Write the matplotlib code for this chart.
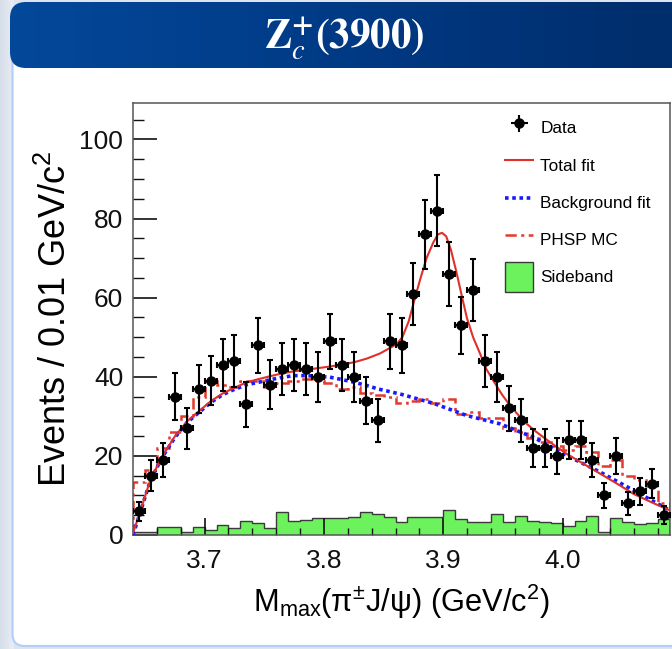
import numpy as np
import matplotlib
matplotlib.use("Agg")
import matplotlib.pyplot as plt
from matplotlib.patches import FancyBboxPatch, Patch
from matplotlib.colors import LinearSegmentedColormap
from matplotlib.ticker import MultipleLocator

plt.rcParams["font.family"] = ["Liberation Sans", "DejaVu Sans"]
plt.rcParams["mathtext.fontset"] = "custom"
plt.rcParams["mathtext.rm"] = "Liberation Sans"
plt.rcParams["mathtext.it"] = "Liberation Sans:italic"
plt.rcParams["mathtext.bf"] = "Liberation Sans:bold"

# ---- binning: 0.01 GeV/c^2 bins from 3.64 to 4.09 ----
x_min, x_max, bin_width = 3.64, 4.09, 0.01
data_counts = [6, 15, 19, 35, 27, 37, 39, 43, 44, 33, 48, 38, 42, 43, 42,
               40, 49, 43, 40, 34, 29, 49, 48, 61, 76, 82, 66, 53, 62, 44,
               40, 32, 29, 22, 22, 20, 24, 24, 19, 10, 20, 8, 11, 13, 5]
sideband = [0.8, 0.8, 2.1, 1.9, 0.8, 2.1, 1.3, 2.6, 1.8, 3.5, 3.0, 1.8,
            5.7, 3.6, 3.7, 4.4, 4.4, 4.4, 4.5, 5.8, 5.4, 4.6, 3.4, 4.5,
            4.6, 4.6, 6.4, 4.0, 3.3, 3.3, 5.2, 3.3, 4.9, 3.6, 3.2, 3.0,
            2.2, 3.6, 4.9, 0.8, 4.3, 3.3, 2.9, 3.1, 4.0]
phsp_mc = [13.3, 16.5, 22, 26, 30, 35, 39, 38, 37.5, 39, 39, 37.5, 38.5,
           39, 39.5, 39, 38.5, 37, 37.5, 36, 35.5, 35, 33.5, 34, 34.5,
           33.5, 34.5, 30.5, 31, 29.5, 29.5, 27, 26, 24.5, 23.5, 22.5,
           21.5, 22.5, 21, 17.5, 19, 15, 14, 12.5, 8]

# fit curves sampled along the mass axis
fit_x = [3.640, 3.6456, 3.6548, 3.6646, 3.6752, 3.6855, 3.6953, 3.7051,
         3.7152, 3.7255, 3.7353, 3.745, 3.7557, 3.7655, 3.7752, 3.785,
         3.7953, 3.8051, 3.8152, 3.8255, 3.8359, 3.847, 3.856, 3.861,
         3.8657, 3.871, 3.876, 3.881, 3.886, 3.8917, 3.8955, 3.899,
         3.9025, 3.9065, 3.911, 3.9155, 3.9197, 3.925, 3.9309, 3.936,
         3.942, 3.949, 3.956, 3.963, 3.970, 3.977, 3.984, 3.9935, 4.0035,
         4.0175, 4.0315, 4.0455, 4.0594, 4.075, 4.09]
fit_y = [0.5, 5.5, 14.2, 19.9, 25.0, 28.8, 31.3, 33.8, 35.8, 37.3, 38.6,
         39.4, 40.2, 40.9, 41.4, 41.8, 42.2, 42.6, 43.1, 43.7, 44.6, 45.9,
         47.4, 48.3, 50.0, 54.0, 59.6, 65.0, 70.0, 74.0, 76.0, 76.4, 75.5,
         72.0, 66.5, 60.5, 55.0, 50.0, 45.8, 42.0, 39.0, 35.6, 32.7, 30.3,
         28.1, 26.3, 24.7, 22.6, 20.5, 18.0, 15.5, 13.0, 10.4, 8.2, 6.2]
bkg_x = [3.640, 3.6456, 3.6548, 3.6646, 3.6752, 3.6855, 3.6953, 3.7051,
         3.7152, 3.7255, 3.7353, 3.745, 3.7557, 3.7655, 3.7752, 3.785,
         3.7953, 3.8051, 3.8152, 3.8255, 3.8359, 3.8456, 3.856, 3.8657,
         3.8917, 3.9197, 3.9476, 3.9756, 4.0035, 4.0315, 4.0594, 4.09]
bkg_y = [0.0, 5.3, 14.0, 19.7, 24.7, 28.5, 31.0, 33.5, 35.5, 36.9, 38.0,
         38.6, 39.3, 39.9, 40.3, 40.3, 40.1, 39.9, 39.3, 38.6, 37.8, 36.9,
         36.2, 35.5, 33.3, 30.2, 28.1, 24.7, 20.1, 15.9, 11.3, 6.2]

x_ticks = [3.7, 3.8, 3.9, 4.0]
x_tick_labels = ["3.7", "3.8", "3.9", "4.0"]
y_ticks = [0, 20, 40, 60, 80, 100]

W, H = 672, 649
fig = plt.figure(figsize=(W / 100, H / 100), dpi=100)
fig.patch.set_facecolor("#dde4ef")

# ---- slide background: panel and title banner ----
bg = fig.add_axes([0, 0, 1, 1], zorder=0)
bg.set_xlim(0, W)
bg.set_ylim(H, 0)
bg.axis("off")
strip = np.linspace(0, 1, 64).reshape(1, -1)
bg.imshow(strip, extent=[0, 14, H, 0], aspect="auto", zorder=0,
          cmap=LinearSegmentedColormap.from_list("s", ["#d6deea", "#e9eef6"]))
panel = FancyBboxPatch((12.5, 30), 700, 616, boxstyle="round,pad=0,rounding_size=12",
                       facecolor="white", edgecolor="#b3cff5", linewidth=1.6, zorder=1)
bg.add_patch(panel)
banner = FancyBboxPatch((10, 2), 700, 66, boxstyle="round,pad=0,rounding_size=16",
                        facecolor="none", edgecolor="none", zorder=2)
bg.add_patch(banner)
grad = bg.imshow(np.linspace(0, 1, 256).reshape(1, -1), extent=[10, 672, 68, 2],
                 aspect="auto", zorder=3,
                 cmap=LinearSegmentedColormap.from_list("b", ["#04489a", "#003a85", "#002d6b"]))
grad.set_clip_path(banner)
bg.set_xlim(0, W)
bg.set_ylim(H, 0)
bg.text(344, 38, r"$\mathbf{Z}_{\mathit{c}}^{\mathbf{+}}\mathbf{(3900)}$", color="white",
        fontsize=29.5, ha="center", va="center", math_fontfamily="stix", zorder=4)

# ---- main plot ----
left, right, top, bottom = 133, 670, 102.7, 535.0
ax = fig.add_axes([left / W, 1 - bottom / H, (right - left) / W, (bottom - top) / H], zorder=1)
ax.set_facecolor("white")

edges = x_min + bin_width * np.arange(len(data_counts) + 1)
centers = 0.5 * (edges[:-1] + edges[1:])

ax.stairs(sideband, edges, fill=True, color="#6cf25c", zorder=1)
ax.stairs(sideband, edges, color="#3a3a3a", linewidth=1.0, zorder=1.1)

ax.stairs(phsp_mc, edges, color="#e23a2e", linewidth=1.8,
          linestyle=(0, (4.5, 1.8, 1.2, 1.8)), zorder=2)
ax.plot(bkg_x, bkg_y, color="#1a1aff", linewidth=2.6,
        linestyle=(0, (1.0, 1.0)), zorder=3)
ax.plot(fit_x, fit_y, color="#e0302a", linewidth=1.5, zorder=4)

counts = np.array(data_counts, dtype=float)
ax.errorbar(centers, counts, yerr=np.sqrt(counts), xerr=bin_width / 2,
            fmt="o", color="black", markersize=6.5, elinewidth=1.5,
            capsize=2.2, capthick=1.5, zorder=5)

ax.set_xlim(x_min, x_max)
ax.set_ylim(0, 109.3)
ax.set_xticks(x_ticks)
ax.set_xticklabels(x_tick_labels)
ax.set_yticks(y_ticks)
ax.xaxis.set_minor_locator(MultipleLocator(0.02))
ax.yaxis.set_minor_locator(MultipleLocator(5))
ax.tick_params(axis="both", which="both", direction="in", top=False, right=False,
               labelsize=19, colors="#111111")
ax.tick_params(axis="x", which="major", length=12, width=1.2, pad=10)
ax.tick_params(axis="x", which="minor", length=5, width=1.0)
ax.tick_params(axis="y", which="major", length=17, width=1.2, pad=7)
ax.tick_params(axis="y", which="minor", length=8, width=1.0)
for s in ax.spines.values():
    s.set_color("#555555")
    s.set_linewidth(1.1)

ax.set_xlabel(r"M$_{\mathrm{max}}$(π$^{\mathrm{±}}$J/ψ) (GeV/c$^{2}$)", fontsize=22.2,
              labelpad=7)
ax.set_ylabel(r"Events / 0.01 GeV/c$^{2}$", fontsize=26, labelpad=4)

handles = [
    ax.errorbar([], [], yerr=[], xerr=[], fmt="o", color="black", markersize=6.5,
                elinewidth=1.5, capsize=0),
    plt.Line2D([], [], color="#e0302a", linewidth=1.5),
    plt.Line2D([], [], color="#1a1aff", linewidth=2.6, linestyle=(0, (1.0, 1.0))),
    plt.Line2D([], [], color="#e23a2e", linewidth=1.8, linestyle=(0, (4.5, 1.8, 1.2, 1.8))),
    Patch(facecolor="#6cf25c", edgecolor="#3a3a3a", linewidth=1.0),
]
labels = ["Data", "Total fit", "Background fit", "PHSP MC", "Sideband"]
leg = ax.legend(handles, labels, loc="upper left",
                bbox_to_anchor=((505 - left) / (right - left), 1 - (113 - top) / (bottom - top)),
                frameon=False, fontsize=12.4, handlelength=1.65, handleheight=2.3,
                handletextpad=0.4, labelspacing=0.42, borderpad=0, borderaxespad=0)

fig.savefig("out.png", dpi=100, facecolor=fig.get_facecolor())
